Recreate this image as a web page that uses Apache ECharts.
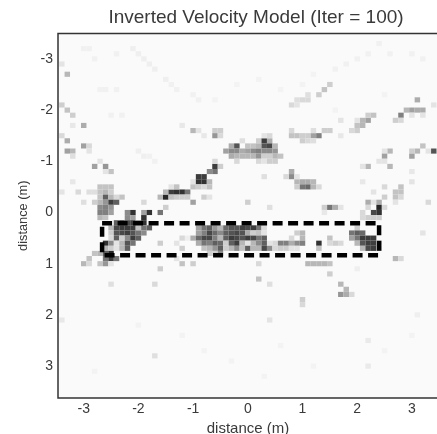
<!DOCTYPE html>
<html>
<head>
<meta charset="utf-8">
<style>
  html, body { margin: 0; padding: 0; background: #fff; overflow: hidden; }
  /* the source picture is a soft, resampled image */
  #chart { width: 437px; height: 434px; filter: blur(0.6px); }
</style>
<script src="https://cdn.jsdelivr.net/npm/echarts@6/dist/echarts.min.js"></script>
</head>
<body>
<div id="chart"></div>
<script>
const xTicks = [-3, -2, -1, 0, 1, 2, 3];
const yTicks = [-3, -2, -1, 0, 1, 2, 3];
const cellSize = 0.1; // metres
// dashed target outline, metres
const boxX = [-2.664, 2.40, 2.40, -2.664, -2.664];
const boxY = [0.211, 0.211, 0.836, 0.836, 0.211];
// [column, row, darkness] columns and rows are in cellSize steps from 0,0
const cellsUpperLeft = [
  [-34,-29,.1],[-33,-27,.3],[-34,-21,.2],[-33,-20,.25],[-32,-19,.2],[-30,-17,.35],[-32,-17,.08],
  [-34,-15,.15],[-33,-14,.35],[-30,-13,.4],[-29,-13,.15],[-29,-12,.1],[-33,-12,.4],[-32,-12,.3],[-32,-11,.12],
  [-28,-9,.4],[-26,-9,.45],[-27,-10,.1],[-25,-8,.25],[-26,-8,.1],[-32,-6,.08],[-34,-4,.1],[-31,-4,.15],
  [-27,-5,.25],[-26,-5,.25],[-25,-5,.25],[-29,-4,.12],[-28,-4,.12],[-27,-4,.25],[-26,-4,.3],[-25,-4,.2],
  [-27,-3,.25],[-26,-3,.7],[-25,-3,.3],[-24,-3,.15],[-23,-3,.25],
  [-30,-2,.12],[-28,-2,.2],[-27,-2,.3],[-26,-2,.45],[-25,-2,.85],[-24,-2,.7],
  [-27,-1,.5],[-26,-1,.55],[-25,-1,.45],[-27,0,.55],[-26,0,.55],[-25,0,.4],[-27,1,.3],[-26,1,.25],
  [-22,0,.5],[-21,0,.9],[-19,0,.4],[-18,0,.9],[-16,0,.6],[-19,-2,.15],[-22,1,.5],[-21,1,.4],[-19,1,.9],
  [-15,-1,.2],[-16,-3,.3],[-15,-3,.95],[-15,-4,.3],[-14,-4,.85],[-13,-4,.9],[-12,-4,.9],[-11,-4,.6],
  [-14,-3,.25],[-13,-3,.2],[-12,-3,.2],[-11,-3,.2],[-14,-5,.1],[-13,-5,.25],[-10,-2,.4],[-8,-3,.2],[-7,-3,.1],[-10,-6,.1],
  [-9,-7,.85],[-8,-7,.85],[-9,-6,.9],[-8,-6,.9],[-7,-6,.3],[-10,-5,.25],[-9,-5,.2],[-8,-5,.15],[-7,-5,.25],
  [-7,-8,.5],[-6,-8,.6],[-6,-9,.85],[-5,-9,.2],[-6,-10,.15],
  [-3,-13,.35],[-2,-13,.75],[-1,-14,.12],[-4,-12,.4],[-3,-12,.5],[-2,-12,.5],[-1,-12,.35],
  [-3,-11,.35],[-2,-11,.3],[-1,-11,.3],[-2,-10,.15],
  [-6,-16,.2],[-5,-16,.2],[-6,-15,.45],[-5,-15,.15],[-10,-16,.3],[-9,-16,.1],[-8,-15,.08],[-12,-17,.08]
];
const cellsUpperRight = [
  [0,-2,.2],[2,-14,.2],[3,-14,.85],[4,-14,.35],[0,-13,.25],[1,-13,.25],[2,-13,.3],[3,-13,.75],[4,-13,.8],[5,-13,.3],
  [0,-12,.4],[1,-12,.5],[2,-12,.55],[3,-12,.5],[4,-12,.5],[5,-12,.45],
  [0,-11,.3],[1,-11,.3],[2,-11,.45],[3,-11,.2],[4,-11,.2],[5,-11,.3],[6,-11,.25],
  [2,-10,.15],[3,-10,.1],[4,-10,.2],[5,-10,.2],[4,-15,.15],[3,-15,.1],
  [8,-16,.15],[8,-15,.25],[9,-15,.25],[10,-15,.2],[11,-15,.2],[12,-15,.4],[13,-15,.55],[14,-16,.2],[15,-16,.2],[12,-16,.12],
  [10,-14,.2],[11,-14,.15],[12,-14,.12],[17,-18,.1],[17,-15,.08],[19,-16,.15],[20,-16,.2],[20,-17,.25],[21,-17,.3],
  [21,-18,.3],[22,-18,.4],[20,-18,.1],[22,-19,.2],[23,-19,.25],
  [28,-19,.55],[27,-18,.2],[28,-18,.15],[29,-20,.3],[30,-20,.4],[31,-20,.35],[32,-20,.35],[31,-22,.35],[34,-21,.1],[30,-19,.1],[32,-19,.1],
  [8,-21,.15],[9,-21,.1],[9,-22,.12],[10,-22,.15],[11,-22,.15],[11,-23,.12],[13,-23,.2],[14,-24,.25],[15,-25,.2],
  [32,-13,.25],[31,-12,.3],[30,-12,.2],[34,-12,.75],[33,-12,.1],[30,-11,.4],[26,-12,.3],[25,-12,.1],[25,-11,.4],
  [24,-10,.1],[25,-10,.1],[26,-9,.3],[22,-9,.3],[21,-9,.1],
  [8,-8,.35],[8,-7,.5],[7,-7,.15],[3,-7,.12],[9,-6,.3],[10,-6,.35],[11,-6,.35],[12,-6,.3],[9,-7,.1],
  [9,-5,.2],[10,-5,.6],[11,-5,.65],[12,-5,.3],[13,-5,.15],
  [21,-6,.08],[25,-5,.15],[28,-5,.25],[27,-4,.25],[28,-4,.25],[27,-3,.25],[28,-3,.15],[30,-6,.1],[30,-8,.08],
  [4,-1,.12],[14,-1,.2],[15,-1,.6],[16,-1,.35],[17,-1,.1],[14,0,.08],
  [23,-4,.1],[25,-3,.2],[22,-2,.35],[23,-2,.1],[24,-2,.35],[24,-1,.95],[25,-1,.15],[22,-1,.15],
  [21,0,.15],[23,0,.8],[24,0,.9],[21,1,.15],[22,1,.2],[23,1,.2],[24,1,.2],[33,-2,.15],[27,-2,.1]
];
const cellsLowerLeft = [
  [-24,2,.7],[-23,2,.85],[-22,2,.8],[-21,2,.85],[-20,2,.5],[-19,2,.9],
  [-25,3,.3],[-24,3,.8],[-23,3,.85],[-22,3,.85],[-21,3,.85],[-20,3,.25],[-19,3,.6],[-18,3,.7],
  [-25,4,.2],[-24,4,.75],[-23,4,.8],[-22,4,.85],[-21,4,.75],[-20,4,.6],[-19,4,.5],
  [-25,5,.15],[-24,5,.7],[-23,5,.2],[-22,5,.5],[-21,5,.85],[-20,5,.7],
  [-26,6,.9],[-25,6,.5],[-24,6,.1],[-23,6,.3],[-22,6,.75],[-21,6,.6],[-16,6,.2],
  [-26,7,.3],[-25,7,.2],[-24,7,.1],[-23,7,.3],[-22,7,.7],
  [-28,8,.25],[-27,8,.3],[-26,8,.7],[-25,8,.95],[-26,9,.6],[-25,9,.85],[-24,9,.6],
  [-29,9,.25],[-30,10,.3],[-29,10,.15],[-27,10,.25],[-26,10,.45],[-25,10,.1],
  [-16,11,.2],[-25,14,.12],[-17,14,.15],[-12,5,.15],[-11,5,.05],[-13,6,.1],[-12,7,.2],
  [-13,9,.1],[-12,10,.25],[-10,10,.2],
  [-9,3,.4],[-8,3,.6],[-7,3,.7],[-6,3,.45],[-5,3,.3],[-4,3,.65],[-3,3,.75],[-2,3,.75],[-1,3,.85],
  [-9,4,.4],[-8,4,.55],[-7,4,.8],[-6,4,.65],[-5,4,.5],[-4,4,.7],[-3,4,.75],[-2,4,.8],[-1,4,.75],
  [-10,5,.35],[-9,5,.65],[-8,5,.8],[-7,5,.8],[-6,5,.55],[-5,5,.3],[-4,5,.7],[-3,5,.85],[-2,5,.8],[-1,5,.75],
  [-9,6,.35],[-8,6,.6],[-7,6,.55],[-6,6,.7],[-5,6,.65],[-4,6,.2],[-3,6,.7],[-2,6,.85],[-1,6,.3],
  [-8,7,.25],[-7,7,.3],[-6,7,.45],[-5,7,.7],[-4,7,.2],[-3,7,.3],[-2,7,.5],[-1,7,.25],
  [-7,8,.2],[-6,8,.2],[-5,8,.5],
  [-17,28,.12],[-34,21,.08]
];
const cellsLowerRight = [
  [0,3,.8],[1,3,.85],[2,3,.6],[3,3,.15],[0,4,.35],[1,4,.2],[2,4,.25],[3,4,.1],[9,4,.2],[10,4,.3],
  [0,5,.85],[1,5,.8],[2,5,.6],[3,5,.7],[8,5,.15],[10,5,.3],
  [0,6,.1],[1,6,.3],[2,6,.5],[3,6,.7],[4,6,.1],[5,6,.15],[6,6,.55],[7,6,.55],[8,6,.35],[9,6,.5],[10,6,.55],
  [13,6,.9],[15,5,.25],[15,6,.15],[16,6,.2],[17,6,.15],
  [0,7,.7],[1,7,.3],[2,7,.3],[3,7,.8],[4,7,.5],[5,7,.15],[6,7,.2],[7,7,.2],[8,7,.1],[9,7,.1],[13,7,.25],
  [20,3,.2],[19,4,.6],[20,4,.7],[21,4,.65],[19,5,.4],[20,5,.6],[21,5,.85],[22,5,.85],[23,5,.85],
  [20,6,.3],[21,6,.75],[22,6,.85],[23,6,.85],[24,6,.3],[21,7,.3],[22,7,.8],[23,7,.85],[24,7,.3],
  [27,9,.3],[28,9,.15],[2,10,.15],[11,10,.3],[12,10,.3],[13,10,.3],[14,10,.3],[15,10,.25],
  [15,12,.2],[2,13,.25],[4,14,.12],[17,14,.3],[18,15,.3],[17,16,.45],[18,16,.35],[19,16,.15],
  [10,17,.2],[10,18,.15],[32,4,.1],[20,11,.05],[4,21,.1],[22,25,.07],[22,30,.07],[31,20,.05]
];
// the very faint arcs near the top of the model
const cellsFaint = [
  [-21,-32,.05],[-20,-31,.05],[-19,-30,.05],[-18,-29,.05],[-17,-28,.05],[-15,-26,.05],[-14,-25,.04],[-13,-24,.04],
  [-10,-23,.04],[-9,-22,.04],[-30,-32,.04],[-29,-32,.04],[-28,-30,.04],[-24,-31,.04],[-25,-19,.04],[-23,-19,.04],
  [-20,-12,.05],[-19,-11,.05],[-18,-11,.04],[-17,-10,.04],[-27,-24,.04],[-26,-24,.04],[-24,-24,.04],
  [16,-28,.04],[18,-29,.04],[20,-30,.04],[22,-31,.04],[24,-33,.04],[26,-31,.04],[30,-31,.04],[32,-30,.04],
  [12,-27,.03],[10,-25,.03],[-6,-22,.03],[-2,-25,.03],[2,-26,.03],[6,-24,.03],[16,-20,.03],[25,-23,.03],
  [-20,22,.03],[-12,24,.03],[-8,27,.03],[-3,29,.03],[6,26,.03],[12,30,.03],[25,27,.03],[30,24,.03],[-28,31,.03],[3,32,.03]
];

const cells = [].concat(cellsUpperLeft, cellsUpperRight, cellsLowerLeft, cellsLowerRight, cellsFaint)
  .map(c => [c[0] * cellSize, c[1] * cellSize, c[2]]);

const textColor = '#3a3a3a';
const font = '"Liberation Sans", Arial, sans-serif';

const chart = echarts.init(document.getElementById('chart'), null, { renderer: 'canvas' });
chart.setOption({
  animation: false,
  backgroundColor: '#fff',
  title: {
    text: 'Inverted Velocity Model (Iter = 100)',
    left: 251,
    top: 3,
    textAlign: 'center',
    textStyle: { color: textColor, fontFamily: font, fontSize: 19, fontWeight: 'normal' }
  },
  grid: {
    show: true,
    outerBoundsMode: 'none',
    left: 58,
    top: 33.5,
    width: 390,
    height: 364.5,
    backgroundColor: '#fafafa',
    borderColor: '#333',
    borderWidth: 1.5
  },
  visualMap: {
    show: false,
    seriesIndex: 0,
    dimension: 2,
    min: 0,
    max: 1,
    inRange: { color: ['#fafafa', '#1c1c1c'] }
  },
  xAxis: {
    type: 'value',
    min: -3.47,
    max: 3.66,
    position: 'bottom',
    name: 'distance (m)',
    nameLocation: 'middle',
    nameGap: 17,
    nameTextStyle: { color: textColor, fontFamily: font, fontSize: 15, padding: [0, 10, 0, 0] },
    axisLine: { show: false, onZero: false },
    axisTick: { show: false },
    splitLine: { show: false },
    axisLabel: { customValues: xTicks, color: textColor, fontFamily: font, fontSize: 14, margin: 4 }
  },
  yAxis: {
    type: 'value',
    inverse: true,
    min: -3.496,
    max: 3.623,
    position: 'left',
    name: 'distance (m)',
    nameLocation: 'middle',
    nameGap: 27,
    nameTextStyle: { color: textColor, fontFamily: font, fontSize: 12.8 },
    axisLine: { show: false, onZero: false },
    axisTick: { show: false },
    splitLine: { show: false },
    axisLabel: { customValues: yTicks, color: textColor, fontFamily: font, fontSize: 14, margin: 5 }
  },
  series: [
    {
      type: 'custom',
      coordinateSystem: 'cartesian2d',
      data: cells,
      encode: { x: 0, y: 1 },
      renderItem: function (params, api) {
        const c = api.coord([api.value(0), api.value(1)]);
        const s = api.size([cellSize, cellSize]);
        return {
          type: 'rect',
          shape: { x: c[0] - s[0] / 2, y: c[1] - s[1] / 2, width: s[0], height: s[1] },
          style: { fill: api.visual('color') }
        };
      }
    },
    {
      type: 'line',
      data: boxX.map((x, i) => [x, boxY[i]]),
      symbol: 'none',
      silent: true,
      lineStyle: { color: '#000', width: 4.5, type: [10, 5.5] }
    }
  ]
});
</script>
</body>
</html>
